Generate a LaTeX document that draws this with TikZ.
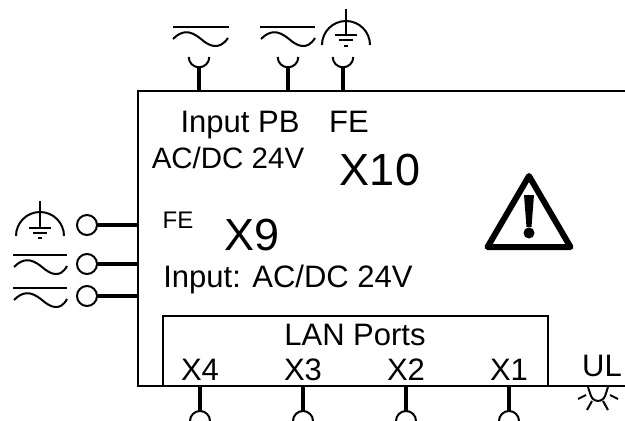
\documentclass[tikz,border=0pt]{standalone}
\usepackage{fontspec}
\setmainfont{Liberation Sans}
\begin{document}
\begin{tikzpicture}[x=1pt,y=1pt]
\tikzstyle{every node}+=[inner sep=0pt,anchor=base]
\tikzstyle{frame}=[line width=2.2pt,black]
\tikzstyle{symbol}=[line width=2pt,black]
\tikzstyle{pinline}=[line width=3.2pt,black]
\tikzstyle{terminal}=[circle,anchor=center,draw=black,line width=2pt,fill=white,minimum size=20pt]
\tikzstyle{textlabel}=[font=\fontsize{31}{31}\selectfont]
\tikzstyle{narrowlabel}=[font=\fontsize{29.5}{30}\selectfont]
\tikzstyle{smalllabel}=[font=\fontsize{24}{24}\selectfont]
\tikzstyle{biglabel}=[font=\fontsize{45}{45}\selectfont]
\useasboundingbox (0,0) rectangle (625,-421);
\fill [white] (0,0) rectangle (625,-421);
\draw [frame] (625,-91) -- (138,-91) -- (138,-386) -- (625,-386);
\draw [frame] (163,-386) -- (163,-316) -- (548,-316) -- (548,-386);
\draw (240,-132) node [textlabel] {Input PB};
\draw (228,-168) node [narrowlabel] {AC/DC 24V};
\draw (349,-132) node [textlabel] {FE};
\draw (380,-185) node [biglabel] {X10};
\draw (178,-228) node [smalllabel] {FE};
\draw (252,-250) node [biglabel] {X9};
\draw (288,-287) node [textlabel] {Input: AC/DC 24V};
\draw (355,-345) node [textlabel] {LAN Ports};
\draw (200,-380) node [textlabel] {X4};
\draw (303,-380) node [textlabel] {X3};
\draw (406,-380) node [textlabel] {X2};
\draw (509,-380) node [textlabel] {X1};
\draw (602,-376) node [textlabel] {UL};
\coordinate (frameA) at (199,-91);
\coordinate (pinA) at (199,-67);
\coordinate (frameB) at (288,-91);
\coordinate (pinB) at (288,-67);
\coordinate (frameC) at (343,-91);
\coordinate (pinC) at (343,-67);
\draw [pinline] (frameA) -- (pinA);
\draw [pinline] (frameB) -- (pinB);
\draw [pinline] (frameC) -- (pinC);
\draw [symbol] (188.7,-57) arc (180:360:10.3);
\draw [symbol] (277.7,-57) arc (180:360:10.3);
\draw [symbol] (332.7,-57) arc (180:360:10.3);
\draw [symbol] (173,-27) -- (229,-27);
\draw [symbol] (173,-39) .. controls (181,-31) and (189,-29) .. (201,-39) .. controls (209,-46) and (219,-51) .. (228,-38);
\draw [symbol] (260,-27) -- (315,-27);
\draw [symbol] (261,-39) .. controls (269,-31) and (277,-29) .. (289,-39) .. controls (297,-46) and (307,-51) .. (315,-38);
\draw [symbol] (322,-45) arc (180:0:24);
\draw [symbol,line width=2.6pt] (346,-9) -- (346,-35);
\draw [symbol] (335,-35) -- (357,-35);
\draw [symbol] (339,-40) -- (353,-40);
\draw [symbol] (344,-46) -- (348,-46);
\node [terminal] (termFE) at (87,-225) {};
\node [terminal] (termAC) at (87,-264) {};
\node [terminal] (termDC) at (87,-296) {};
\coordinate (frameFE) at (138,-225);
\coordinate (frameAC) at (138,-264);
\coordinate (frameDC) at (138,-296);
\draw [pinline] (termFE) -- (frameFE);
\draw [pinline,line width=4pt] (termAC) -- (frameAC);
\draw [pinline] (termDC) -- (frameDC);
\draw [symbol] (16,-236) arc (180:0:24);
\draw [symbol,line width=2.6pt] (40,-201) -- (40,-228);
\draw [symbol] (29,-228) -- (51,-228);
\draw [symbol] (33,-233) -- (47,-233);
\draw [symbol] (38,-238) -- (42,-238);
\draw [symbol] (13,-255) -- (67,-255);
\draw [symbol] (14,-267) .. controls (22,-259) and (30,-257) .. (42,-267) .. controls (50,-274) and (60,-279) .. (67,-266);
\draw [symbol] (13,-288) -- (67,-288);
\draw [symbol] (14,-300) .. controls (22,-292) and (30,-290) .. (42,-300) .. controls (50,-307) and (60,-312) .. (67,-299);
\coordinate (frameXfour) at (200,-386);
\coordinate (pinXfour) at (200,-412);
\coordinate (frameXthree) at (303,-386);
\coordinate (pinXthree) at (303,-412);
\coordinate (frameXtwo) at (406,-386);
\coordinate (pinXtwo) at (406,-412);
\coordinate (frameXone) at (509,-386);
\coordinate (pinXone) at (509,-412);
\draw [pinline] (frameXfour) -- (pinXfour);
\draw [pinline] (frameXthree) -- (pinXthree);
\draw [pinline] (frameXtwo) -- (pinXtwo);
\draw [pinline] (frameXone) -- (pinXone);
\draw [symbol] (190,-421) arc (180:0:10);
\draw [symbol] (293,-421) arc (180:0:10);
\draw [symbol] (396,-421) arc (180:0:10);
\draw [symbol] (499,-421) arc (180:0:10);
\draw [symbol] (588,-387) -- (591,-396) arc (200:340:7.5) -- (608,-387);
\draw [symbol] (578,-399) -- (586,-395);
\draw [symbol] (618,-399) -- (610,-395);
\draw [symbol] (587,-410) -- (592,-401);
\draw [symbol] (608,-410) -- (603,-401);
\draw [line width=6pt,line join=round,black] (529,-176) -- (487.5,-247) -- (570.5,-247) -- cycle;
\fill [black] (524,-195) -- (534,-195) -- (531.5,-227) -- (526.5,-227) -- cycle;
\fill [black] (529,-233) circle (5.5);
\end{tikzpicture}
\end{document}
